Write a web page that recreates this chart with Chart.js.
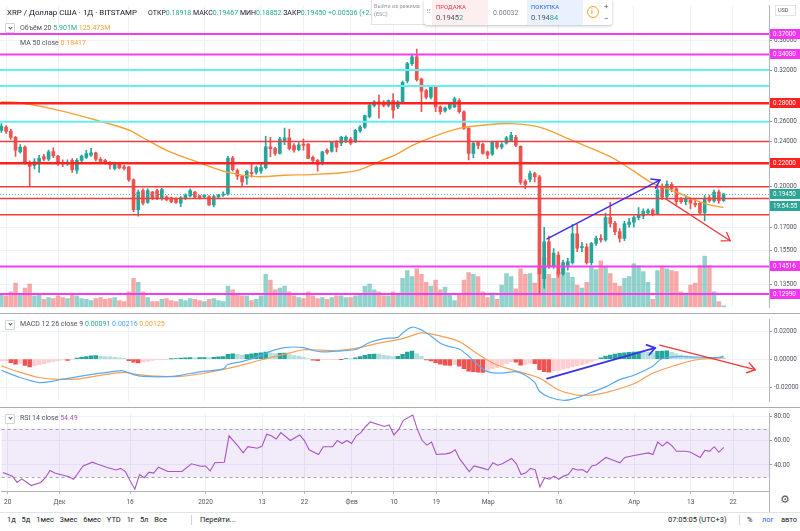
<!DOCTYPE html>
<html><head><meta charset="utf-8">
<script src="https://cdn.jsdelivr.net/npm/chart.js@4.4.1/dist/chart.umd.min.js"></script>
<style>
html,body{margin:0;padding:0;background:#fff;}
#wrap{position:relative;width:800px;height:531px;overflow:hidden;font-family:Roboto,"Liberation Sans",sans-serif;color:#131722;background:#fff;}
canvas{position:absolute;left:0;}
.t{position:absolute;white-space:nowrap;line-height:10px;height:10px;}
.g{color:#26a69a}.o{color:#f7a035}.b{color:#4ea3f1}.p{color:#a855c8}.gr{color:#50535e}
.dd{position:absolute;left:5px;width:8px;height:8px;border:1px solid #d1d4dc;border-radius:1px;background:#fff;}
.dd:after{content:"";position:absolute;left:2.5px;top:1.5px;width:2px;height:2px;border-right:1px solid #555;border-bottom:1px solid #555;transform:rotate(45deg);}
.sep{position:absolute;left:0;width:800px;height:1px;background:#a9acb4;}
</style></head><body><div id="wrap">
<canvas id="cMain" width="800" height="313" style="top:0;width:800px;height:313px"></canvas>
<canvas id="cMacd" width="800" height="93" style="top:314px;width:800px;height:93px"></canvas>
<canvas id="cRsi" width="800" height="104" style="top:408px;width:800px;height:104px"></canvas>
<div class="sep" style="top:313px"></div>
<div class="sep" style="top:407px"></div>
<div style="position:absolute;left:769px;top:491px;width:1px;height:21px;background:#b2b5be"></div>
<div style="position:absolute;left:0;top:512px;width:800px;height:1px;background:#e0e3eb"></div>

<div class="t" style="left:7px;top:7.7px;font-size:7.9px;color:#131722">XRP / Доллар США · 1Д · BITSTAMP</div>
<div class="t" style="left:148px;top:8px;font-size:7px;color:#131722">ОТКР<span class="g">0.18918</span> МАКС<span class="g">0.19467</span> МИН<span class="g">0.18852</span> ЗАКР<span class="g">0.19450</span> <span class="g">+0.00536 (+2.83%)</span></div>
<div class="dd" style="top:23px"></div>
<div class="t" style="left:20px;top:23px;font-size:7px"><span class="gr">Объём 20</span> <span class="g">5.901M</span> <span class="o">125.473M</span></div>
<div class="t" style="left:20px;top:38px;font-size:7px"><span class="gr">MA 50 close</span> <span class="o">0.18417</span></div>

<div style="position:absolute;left:371px;top:0;width:53px;height:24px;background:#fff;border:1px solid #e0e3eb;border-top:none;overflow:hidden">
 <div class="t" style="left:2px;top:1px;font-size:5.5px;color:#9598a1">Выйти из режима</div>
 <div class="t" style="left:2px;top:9px;font-size:5.5px;color:#9598a1">(ESC)</div>
</div>
<div style="position:absolute;left:424px;top:0;width:188px;height:25px;background:#fff;border-radius:0 0 3px 3px;box-shadow:0 1px 3px rgba(0,0,0,0.25)">
 <div class="t" style="left:2px;top:7px;font-size:7px;color:#b2b5be">⠿</div>
 <div style="position:absolute;left:8px;top:0;width:56px;height:25px;background:#fdeef0"></div>
 <div class="t" style="left:12px;top:2px;font-size:6px;color:#f23645">ПРОДАЖА</div>
 <div class="t" style="left:12px;top:12.5px;font-size:7.5px;color:#50535e">0.1945<span class="g">2</span></div>
 <div class="t" style="left:69px;top:8px;font-size:7px;color:#787b86">0.00032</div>
 <div style="position:absolute;left:103px;top:0;width:56px;height:25px;background:#eaf1fe"></div>
 <div class="t" style="left:107px;top:2px;font-size:6px;color:#2962ff">ПОКУПКА</div>
 <div class="t" style="left:107px;top:12.5px;font-size:7.5px;color:#50535e">0.194<span class="g">84</span></div>
 <div style="position:absolute;left:163px;top:6px;width:10px;height:10px;border:1.2px solid #f7a035;border-radius:50%;"></div>
 <div class="t" style="left:167px;top:6.5px;font-size:7px;color:#f7a035;font-weight:bold">i</div>
 <div class="t" style="left:180px;top:1.5px;font-size:8px;color:#50535e">+</div>
 <div class="t" style="left:180px;top:13.5px;font-size:8px;color:#50535e">−</div>
</div>
<div style="position:absolute;left:775px;top:5px;width:19px;height:9px;border:1px solid #e0e3eb;background:#fff"></div>
<div class="t" style="left:778px;top:5px;font-size:5.5px;color:#50535e">USD</div>

<div class="dd" style="top:319.5px"></div>
<div class="t" style="left:20px;top:319px;font-size:7px"><span class="gr">MACD 12 26 close 9</span> <span class="g">0.00091</span> <span class="b">0.00216</span> <span class="o">0.00125</span></div>
<div class="dd" style="top:413.5px"></div>
<div class="t" style="left:20px;top:413px;font-size:7px"><span class="gr">RSI 14 close</span> <span class="p">54.49</span></div>

<div class="t" style="left:780px;top:495px;font-size:11px;color:#50535e;font-family:'DejaVu Sans'">⚙</div>
<div class="t" style="left:7px;top:515px;font-size:7.5px;color:#131722;word-spacing:4px">1д 5д 1мес 3мес 6мес YTD 1г 5л Все</div>
<div style="position:absolute;left:191px;top:515px;width:1px;height:10px;background:#d1d4dc"></div>
<div class="t" style="left:200px;top:515px;font-size:7.5px;color:#131722">Перейти...</div>
<div class="t" style="left:668px;top:515px;font-size:7.5px;color:#131722">07:05:05 (UTC+3)</div>
<div style="position:absolute;left:739px;top:515px;width:1px;height:10px;background:#d1d4dc"></div>
<div class="t" style="left:747px;top:515px;font-size:7.5px;color:#131722">%</div>
<div class="t" style="left:762px;top:515px;font-size:7.5px;color:#2962ff">лог</div>
<div class="t" style="left:781px;top:515px;font-size:7.5px;color:#131722">авто</div>
</div>
<script>
// ---------------- DATA ----------------
const startDate = '2019-11-19';
const opens = [
.2510,.2543,.2504,.2440,.2302,.2347,.2206,.2180,.2206,.2258,.2235,.2305,
.2264,.2201,.2195,.2225,.2138,.2225,.2252,.2273,.2293,.2235,.2225,.2206,.2155,.2201,.2167,.2167,.2057,.1824,.1971,.1879,.1959,.1971,.1909,.1921,.1914,.1909,.1872,.1909,.1929,.1959,.1928,
.1921,.1924,.1860,.1921,.1934,.1941,.2246,.2136,.2087,.2070,.2120,.2120,.2130,.2160,.2350,.2332,.2287,.2400,.2437,.2362,.2323,.2375,.2375,.2252,.2225,.2195,.2317,.2309,.2400,.2385,.2410,
.2425,.2408,.2504,.2543,.2654,.2776,.2817,.2813,.2776,.2829,.2759,.2813,.3063,.3284,.3376,.3087,.2945,.2868,.3004,.2759,.2715,.2745,.2759,.2829,.2706,.2530,.2287,.2390,.2375,
.2302,.2280,.2390,.2347,.2385,.2408,.2440,.2355,.2045,.2060,.2110,.2083,.1382,.1603,.1455,.1519,.1409,.1457,.1474,.1656,.1565,.1570,.1474,.1593,.1625,.1615,.1767,.1726,.1670,.1625,.1720,
.1735,.1767,.1780,.1800,.1822,.1795,.1996,.1925,.2021,.1984,.1905,.1884,.1897,.1872,.1872,.1801,.1915,.1889,.1958,.18918];
const highs = [
.2580,.2560,.2520,.2450,.2370,.2360,.2220,.2240,.2270,.2280,.2320,.2340,
.2270,.2230,.2230,.2240,.2240,.2275,.2320,.2335,.2300,.2250,.2235,.2215,.2210,.2205,.2180,.2170,.2065,.1975,.1985,.1985,.1965,.1980,.1990,.1930,.1920,.1915,.1925,.1945,.1985,.1965,.1935,
.1940,.1930,.1935,.1940,.1960,.2262,.2262,.2150,.2095,.2140,.2190,.2175,.2203,.2450,.2440,.2345,.2440,.2533,.2520,.2380,.2390,.2427,.2380,.2265,.2235,.2310,.2330,.2400,.2410,.2450,.2455,
.2440,.2520,.2560,.2670,.2790,.2830,.2894,.2830,.2840,.2911,.2830,.3060,.3300,.3414,.3481,.3100,.2960,.3010,.3010,.2770,.2760,.2800,.2870,.2850,.2715,.2540,.2400,.2400,.2385,
.2310,.2405,.2400,.2390,.2450,.2490,.2460,.2360,.2060,.2130,.2120,.2095,.1700,.1640,.1560,.1540,.1490,.1500,.1720,.1720,.1600,.1590,.1600,.1640,.1650,.1800,.1880,.1740,.1690,.1740,.1760,
.1780,.1840,.1830,.1830,.1830,.1995,.2025,.2050,.2035,.1995,.1915,.1930,.1910,.1900,.1880,.1930,.1935,.1975,.1975,.19467];
const lows = [
.2490,.2480,.2420,.2260,.2290,.2190,.2010,.2150,.2120,.2220,.2220,.2250,
.2180,.2170,.2180,.2120,.2110,.2200,.2240,.2260,.2220,.2200,.2190,.2150,.2140,.2150,.2140,.2045,.1810,.1778,.1860,.1870,.1900,.1900,.1895,.1890,.1875,.1870,.1846,.1900,.1920,.1910,.1905,
.1910,.1855,.1845,.1912,.1925,.1935,.2130,.2060,.2008,.2020,.2080,.2105,.2110,.2150,.2258,.2270,.2280,.2370,.2320,.2300,.2310,.2317,.2240,.2200,.2130,.2185,.2280,.2300,.2302,.2360,.2390,
.2370,.2390,.2490,.2530,.2640,.2760,.2638,.2760,.2760,.2638,.2740,.2800,.3040,.3260,.3060,.2706,.2850,.2850,.2706,.2680,.2700,.2730,.2750,.2690,.2520,.2229,.2250,.2330,.2280,
.2240,.2270,.2330,.2330,.2375,.2400,.2350,.2020,.1985,.2040,.2040,.1300,.1330,.1440,.1440,.1390,.1400,.1430,.1465,.1540,.1540,.1465,.1460,.1580,.1600,.1605,.1700,.1650,.1600,.1610,.1700,
.1700,.1750,.1760,.1790,.1780,.1790,.1900,.1915,.1960,.1860,.1870,.1860,.1830,.1845,.1790,.1744,.1880,.1880,.1870,.18852];
const closes = [
.2553,.2500,.2440,.2317,.2347,.2206,.2172,.2215,.2244,.2235,.2302,.2264,
.2201,.2195,.2205,.2144,.2225,.2264,.2287,.2293,.2235,.2215,.2206,.2186,.2201,.2158,.2155,.2057,.1824,.1959,.1872,.1971,.1914,.1909,.1979,.1897,.1885,.1879,.1914,.1934,.1971,.1921,.1914,
.1934,.1860,.1924,.1934,.1941,.2246,.2144,.2087,.2039,.2128,.2112,.2161,.2161,.2350,.2332,.2287,.2425,.2437,.2332,.2317,.2368,.2362,.2243,.2225,.2186,.2302,.2297,.2393,.2347,.2440,.2440,
.2385,.2510,.2543,.2664,.2776,.2817,.2793,.2776,.2829,.2724,.2817,.3045,.3284,.3376,.3078,.2940,.2868,.3004,.2759,.2706,.2745,.2793,.2850,.2706,.2530,.2287,.2384,.2362,.2287,
.2273,.2400,.2347,.2370,.2437,.2460,.2362,.2036,.2020,.2110,.2083,.1409,.1603,.1455,.1532,.1409,.1474,.1480,.1656,.1562,.1572,.1474,.1593,.1625,.1615,.1767,.1726,.1670,.1625,.1723,.1735,
.1767,.1790,.1812,.1818,.1795,.1975,.1918,.2021,.1984,.1884,.1884,.1909,.1872,.1860,.1800,.1909,.1889,.1958,.1891,.1945];
const volumes = [ // millions
59,50,67,105,59,84,101,50,55,34,42,38,
50,42,38,59,50,38,34,29,38,42,34,38,42,29,25,67,126,109,67,42,25,25,34,38,29,25,34,29,38,34,29,
25,34,38,29,25,92,76,59,50,50,29,34,50,143,118,76,84,92,67,50,42,38,67,50,38,42,34,42,50,50,42,
42,50,59,92,101,76,67,50,50,67,59,126,160,134,168,143,109,92,118,76,88,55,29,59,118,151,143,134,67,
42,63,34,97,147,134,80,168,143,147,105,176,218,143,126,151,176,151,130,97,84,109,176,164,202,176,147,105,92,126,134,
189,181,155,109,34,160,181,168,160,155,67,55,97,105,181,223,181,67,25,5.9];

const maDates = ['2019-11-19','2019-11-23','2019-12-01','2019-12-10','2019-12-16','2019-12-19','2019-12-24','2019-12-31','2020-01-06','2020-01-12','2020-01-18','2020-01-24','2020-01-30','2020-02-03','2020-02-07','2020-02-11','2020-02-14','2020-02-19','2020-02-24','2020-02-29','2020-03-06','2020-03-12','2020-03-19','2020-03-27','2020-04-01','2020-04-05','2020-04-10','2020-04-14','2020-04-17','2020-04-20'];
const maValues = [0.2818,0.2805,0.2724,0.2603,0.2514,0.2437,0.2317,0.2203,0.2120,0.2084,0.2095,0.2103,0.2117,0.2144,0.2214,0.2287,0.2362,0.2456,0.2530,0.2563,0.2580,0.2543,0.2408,0.2258,0.2130,0.2029,0.1959,0.1896,0.1860,0.18417];

const macdDates = ['2019-11-19','2019-11-23','2019-11-27','2019-11-30','2019-12-02','2019-12-06','2019-12-10','2019-12-14','2019-12-15','2019-12-17','2019-12-19','2019-12-24','2019-12-27','2019-12-31','2020-01-05','2020-01-06','2020-01-09','2020-01-13','2020-01-15','2020-01-18','2020-01-22','2020-01-24','2020-01-26','2020-01-29','2020-02-02','2020-02-05','2020-02-08','2020-02-11','2020-02-12','2020-02-14','2020-02-16','2020-02-18','2020-02-20','2020-02-22','2020-02-24','2020-02-26','2020-02-28','2020-03-01','2020-03-04','2020-03-07','2020-03-09','2020-03-11','2020-03-12','2020-03-14','2020-03-17','2020-03-19','2020-03-22','2020-03-26','2020-03-29','2020-04-01','2020-04-05','2020-04-07','2020-04-11','2020-04-14','2020-04-19','2020-04-20'];
const macdValues = [-0.0079,-0.0131,-0.0167,-0.0156,-0.0142,-0.0121,-0.0100,-0.0083,-0.0085,-0.0110,-0.0123,-0.0125,-0.0115,-0.0090,-0.0069,-0.0038,-0.0017,0.0025,0.0056,0.0083,0.0083,0.0062,0.0052,0.0058,0.0069,0.0119,0.0146,0.0156,0.0187,0.0229,0.0208,0.0166,0.0114,0.0089,0.0073,0.0021,-0.0042,-0.0089,-0.0100,-0.0089,-0.0114,-0.0166,-0.0229,-0.0270,-0.0293,-0.0285,-0.0250,-0.0198,-0.0146,-0.0115,-0.0050,0.0005,0.0019,0.0015,0.0012,0.00216];
const signalDates = ['2019-11-19','2019-11-23','2019-11-27','2019-11-30','2019-12-05','2019-12-10','2019-12-15','2019-12-18','2019-12-23','2019-12-27','2019-12-31','2020-01-07','2020-01-13','2020-01-18','2020-01-22','2020-01-24','2020-01-29','2020-02-02','2020-02-07','2020-02-12','2020-02-16','2020-02-19','2020-02-24','2020-02-28','2020-03-03','2020-03-07','2020-03-12','2020-03-16','2020-03-20','2020-03-23','2020-03-26','2020-04-01','2020-04-05','2020-04-10','2020-04-14','2020-04-18','2020-04-20'];
const signalValues = [-0.0048,-0.0094,-0.0131,-0.0142,-0.0142,-0.0115,-0.0094,-0.0110,-0.0123,-0.0123,-0.0106,-0.0058,-0.0006,0.0035,0.0067,0.0067,0.0062,0.0077,0.0114,0.0146,0.0187,0.0173,0.0125,0.0035,-0.0042,-0.0083,-0.0135,-0.0218,-0.0256,-0.0256,-0.0239,-0.0175,-0.0100,-0.0042,-0.0006,0.0006,0.00125];
const histValues = [
-0.0012,-0.0010,-0.0025,-0.0035,-0.0030,-0.0045,-0.0056,-0.0048,-0.0040,-0.0032,
-0.0024,-0.0016,-0.0010,-0.0006,-0.0009,-0.0004,0.0008,0.0014,0.0019,0.0023,
0.0025,0.0022,0.0019,0.0016,0.0013,0.0010,0.0006,-0.0010,-0.0022,-0.0026,
-0.0020,-0.0014,-0.0009,-0.0004,-0.0002,-0.0001,0.0002,0.0004,0.0007,0.0009,
0.0011,0.0010,0.0011,0.0012,0.0011,0.0013,0.0016,0.0018,0.0035,0.0038,
0.0034,0.0030,0.0033,0.0038,0.0042,0.0046,0.0050,0.0046,0.0040,0.0042,
0.0044,0.0032,0.0026,0.0022,0.0015,0.0005,-0.0008,-0.0010,-0.0006,-0.0004,
-0.0003,-0.0001,-0.0002,0.0003,0.0002,0.0010,0.0018,0.0028,0.0034,0.0037,
0.0036,0.0028,0.0024,0.0018,0.0020,0.0035,0.0050,0.0058,0.0040,0.0020,
-0.0005,-0.0012,-0.0025,-0.0035,-0.0042,-0.0045,-0.0038,-0.0050,-0.0068,-0.0085,
-0.0090,-0.0092,-0.0094,-0.0085,-0.0070,-0.0060,-0.0045,-0.0030,-0.0018,-0.0022,
-0.0042,-0.0038,-0.0030,-0.0032,-0.0075,-0.0090,-0.0092,-0.0082,-0.0080,-0.0072,
-0.0065,-0.0055,-0.0048,-0.0040,-0.0030,-0.0018,-0.0008,0.0010,0.0022,0.0030,
0.0036,0.0042,0.0046,0.0049,0.0050,0.0052,0.0051,0.0049,0.0046,0.0056,
0.0058,0.0060,0.0048,0.0038,0.0030,0.0024,0.0018,0.0014,0.0010,0.0009,
0.0011,0.0012,0.0010,0.00091];

const rsiDates = ['2019-11-19','2019-11-21','2019-11-22','2019-11-23','2019-11-25','2019-11-27','2019-11-28','2019-11-29','2019-11-30','2019-12-01','2019-12-03','2019-12-04','2019-12-06','2019-12-08','2019-12-09','2019-12-11','2019-12-13','2019-12-14','2019-12-15','2019-12-16','2019-12-17','2019-12-18','2019-12-19','2019-12-20','2019-12-21','2019-12-22','2019-12-24','2019-12-27','2019-12-29','2019-12-31',
'2020-01-01','2020-01-02','2020-01-03','2020-01-05','2020-01-06','2020-01-08','2020-01-09','2020-01-10','2020-01-12','2020-01-13','2020-01-14','2020-01-15','2020-01-16','2020-01-17','2020-01-19','2020-01-21','2020-01-22','2020-01-23','2020-01-25','2020-01-26','2020-01-28','2020-01-29','2020-01-30','2020-01-31',
'2020-02-01','2020-02-02','2020-02-03','2020-02-04','2020-02-05','2020-02-07','2020-02-08','2020-02-09','2020-02-10','2020-02-11','2020-02-12','2020-02-14','2020-02-15','2020-02-16','2020-02-17','2020-02-18','2020-02-19','2020-02-21','2020-02-22','2020-02-23','2020-02-24','2020-02-26','2020-02-27','2020-02-29',
'2020-03-01','2020-03-02','2020-03-03','2020-03-04','2020-03-06','2020-03-07','2020-03-08','2020-03-09','2020-03-10','2020-03-11','2020-03-12','2020-03-13','2020-03-14','2020-03-15','2020-03-16','2020-03-17','2020-03-18','2020-03-19','2020-03-20','2020-03-21','2020-03-22','2020-03-23','2020-03-24','2020-03-26','2020-03-27','2020-03-29','2020-03-30',
'2020-04-01','2020-04-04','2020-04-05','2020-04-06','2020-04-07','2020-04-08','2020-04-09','2020-04-10','2020-04-12','2020-04-13','2020-04-15','2020-04-16','2020-04-17','2020-04-18','2020-04-19','2020-04-20'];
const rsiValues = [33.8,30.8,25.6,28.5,23.0,25.6,29.5,35.4,33.3,32.3,30.2,28.2,39.2,42.3,40.8,38.2,35.9,37.2,34.6,26.9,20.0,32.1,29.5,34.1,33.3,38.2,34.6,34.6,41.0,39.0,
39.2,35.1,41.8,42.3,64.1,55.1,50.0,55.1,53.8,55.6,65.4,64.1,61.5,66.7,60.2,64.8,60.2,52.5,48.7,55.1,55.1,60.2,57.7,60.2,
57.7,64.1,66.7,71.8,75.6,73.1,71.8,73.1,64.8,69.2,76.9,81.3,69.2,60.2,56.4,59.0,48.7,49.2,50.0,52.5,44.8,34.6,39.2,37.2,
35.9,41.8,39.8,41.0,45.4,41.0,32.1,33.5,37.2,36.0,21.8,29.5,28.2,30.8,28.2,30.8,32.1,37.2,35.9,36.2,33.8,39.2,40.2,46.2,44.8,41.8,46.2,
47.9,50.0,48.7,59.0,55.6,59.0,56.0,51.3,51.3,50.5,46.2,52.1,51.3,55.1,50.5,54.49];

const xTickDates = ['2019-11-20','2019-12-01','2019-12-16','2020-01-01','2020-01-13','2020-01-22','2020-02-01','2020-02-10','2020-02-19','2020-03-01','2020-03-16','2020-04-01','2020-04-13','2020-04-22'];
const xTickLabels = ['20','Дек','16','2020','13','22','Фев','10','19','Мар','16','Апр','13','22'];
const priceTicks = [0.36,0.32,0.26,0.24,0.20,0.17,0.155,0.135];
const macdTicks = [0.02,0,-0.02];
const rsiTicks = [80,60,40];

const levelPrices = [0.37,0.3408,0.32,0.30,0.28,0.26,0.24,0.22,0.20,0.1909,0.1787,0.14516,0.1299];
const levelKinds  = ['m','m','c','c','R','c','r','R','r','r','r','m','m'];
const levelLabels = ['0.37000','0.34080',null,null,'0.28000',null,null,'0.22000',null,null,null,'0.14516','0.12990'];
const countdown = '19:54:55';

// drawings (data coordinates: day offset from start, value)
const mainArrows = [
  {x1:115.6,y1:0.1622,x2:139.5,y2:0.2055,color:'#3d30f2',w:1.6},
  {x1:140.6,y1:0.1909,x2:154.4,y2:0.1610,color:'#f03a3a',w:1.3}];
const macdArrows = [
  {x1:115.6,y1:-0.0138,x2:138.5,y2:0.0081,color:'#3d30f2',w:1.8},
  {x1:139.5,y1:0.0100,x2:159.7,y2:-0.0075,color:'#f03a3a',w:1.4}];

// ---------------- STYLE / HELPERS ----------------
const X_MIN = -0.29, X_MAX = 162.63, AXIS_W = 31;
const levelStyle = {m:{color:'#f53cf2',w:2}, c:{color:'#62eff5',w:2}, R:{color:'#ff2222',w:2.5}, r:{color:'#f23d3d',w:1.5}};
const dayIdx = s => Math.round((Date.parse(s) - Date.parse(startDate)) / 86400000);
const idx = closes.map((_, i) => i);
const up = closes.map((c, i) => c >= opens[i]);
const candleCol = up.map(u => u ? '#26a69a' : '#ef5350');
const volCol = up.map(u => u ? 'rgba(38,166,154,0.5)' : 'rgba(239,83,80,0.5)');
const histCol = histValues.map((h, i) => { const p = i ? histValues[i-1] : h; return h >= 0 ? (h >= p ? '#26a69a' : '#b2dfdb') : (h < p ? '#ef5350' : '#ffcdd2'); });
const tickLbl = {}; xTickDates.forEach((d, k) => tickLbl[dayIdx(d)] = xTickLabels[k]);

Chart.defaults.font.family = 'Roboto';
Chart.defaults.color = '#4c525e';
Chart.defaults.animation = false;

function xScale(showLabels) {
  return {type:'linear', min:X_MIN, max:X_MAX, offset:false,
    afterBuildTicks: s => { s.ticks = xTickDates.map(d => ({value: dayIdx(d)})); },
    afterFit: s => { s.height = showLabels ? 21 : 0; },
    grid:{color:'#eef1f6', offset:false, drawTicks:showLabels, tickLength:3, tickColor:'#b2b5be'},
    border:{display:showLabels, color:'#b2b5be'},
    ticks:{display:showLabels, autoSkip:false, maxRotation:0, padding:4, font:{size:6.5}, color:'#4c525e', callback: v => tickLbl[v] ?? ''}};
}
function yRight(extra, ticks, fmt) {
  return Object.assign({position:'right', beginAtZero:false,
    afterBuildTicks: s => { s.ticks = ticks.map(v => ({value:v})); },
    afterFit: s => { s.width = AXIS_W; },
    ticks:{autoSkip:false, padding:2, font:{size:6.3}, color:'#4c525e', callback: v => fmt(Number(v))},
    grid:{color:'#eef1f6', drawTicks:true, tickLength:3, tickColor:'#9598a1'},
    border:{color:'#b2b5be'}}, extra);
}
function drawArrow(ctx, x1, y1, x2, y2, color, w) {
  ctx.strokeStyle = color; ctx.lineWidth = w; ctx.lineCap = 'round';
  ctx.beginPath(); ctx.moveTo(x1, y1); ctx.lineTo(x2, y2); ctx.stroke();
  const a = Math.atan2(y2 - y1, x2 - x1), h = 9, s = 0.6;
  ctx.beginPath();
  ctx.moveTo(x2 - h * Math.cos(a - s), y2 - h * Math.sin(a - s));
  ctx.lineTo(x2, y2);
  ctx.lineTo(x2 - h * Math.cos(a + s), y2 - h * Math.sin(a + s));
  ctx.stroke();
}
function axisBox(ctx, x, yc, bg, text) {
  ctx.fillStyle = bg; ctx.fillRect(x, Math.round(yc) - 5, 800 - x, 10);
  ctx.fillStyle = '#fff'; ctx.font = '6.3px Roboto'; ctx.textBaseline = 'middle'; ctx.textAlign = 'left';
  ctx.fillText(text, x + 3, Math.round(yc) + 0.5);
}
const common = {responsive:false, maintainAspectRatio:false, events:[], layout:{padding:0, autoPadding:false},
  plugins:{legend:{display:false}, tooltip:{enabled:false}}};

// ---------------- MAIN ----------------
const lastClose = closes[closes.length - 1];
const mainOverlay = {id:'mainOverlay',
  afterDatasetsDraw(chart) {
    const {ctx, chartArea:a, scales:{x, y}} = chart;
    ctx.save();
    ctx.beginPath(); ctx.rect(a.left, a.top, a.right - a.left, a.bottom - a.top); ctx.clip();
    levelPrices.forEach((p, k) => {
      const st = levelStyle[levelKinds[k]]; const py = y.getPixelForValue(p);
      ctx.strokeStyle = st.color; ctx.lineWidth = st.w;
      ctx.beginPath(); ctx.moveTo(a.left, py); ctx.lineTo(a.right, py); ctx.stroke();
    });
    const cy = Math.round(y.getPixelForValue(lastClose)) + 0.5;
    ctx.setLineDash([1, 2]); ctx.strokeStyle = '#5fb5ad'; ctx.lineWidth = 1;
    ctx.beginPath(); ctx.moveTo(a.left, cy); ctx.lineTo(a.right, cy); ctx.stroke(); ctx.setLineDash([]);
    mainArrows.forEach(r => drawArrow(ctx, x.getPixelForValue(r.x1), y.getPixelForValue(r.y1), x.getPixelForValue(r.x2), y.getPixelForValue(r.y2), r.color, r.w));
    ctx.restore();
  },
  afterDraw(chart) {
    const {ctx, chartArea:a, scales:{y}} = chart;
    ctx.save();
    levelPrices.forEach((p, k) => { if (levelLabels[k]) axisBox(ctx, a.right + 1, y.getPixelForValue(p), levelKinds[k] === 'm' ? '#f533f2' : '#ff2020', levelLabels[k]); });
    const cy = y.getPixelForValue(lastClose);
    axisBox(ctx, a.right + 1, cy, '#2aa596', lastClose.toFixed(5));
    axisBox(ctx, a.right + 1, cy + 12, '#2aa596', countdown);
    ctx.restore();
  }};

new Chart(document.getElementById('cMain'), {
  type:'bar',
  data:{datasets:[
    {type:'line', data: maDates.map((d, k) => ({x: dayIdx(d), y: maValues[k]})), borderColor:'#f7a035', borderWidth:1.4, pointRadius:0, tension:0.35, order:0},
    {type:'bar', data: idx.map(i => ({x:i, y:[opens[i], closes[i]]})), backgroundColor:candleCol, barThickness:3, minBarLength:1, grouped:false, order:1},
    {type:'bar', data: idx.map(i => ({x:i, y:[lows[i], highs[i]]})), backgroundColor:candleCol, barThickness:1, grouped:false, order:2},
    {type:'bar', yAxisID:'yv', data: idx.map(i => ({x:i, y:volumes[i]})), backgroundColor:volCol, barThickness:3.8, grouped:false, order:3}
  ]},
  options: Object.assign({}, common, {
    scales:{
      x: xScale(false),
      y: yRight({type:'logarithmic', min:0.1232, max:0.4145}, priceTicks, v => v.toFixed(5)),
      yv:{type:'linear', display:false, min:0, max:1315}
    }}),
  plugins:[mainOverlay]
});

// ---------------- MACD ----------------
const macdOverlay = {id:'macdOverlay',
  afterDatasetsDraw(chart) {
    const {ctx, chartArea:a, scales:{x, y}} = chart;
    ctx.save(); ctx.beginPath(); ctx.rect(a.left, a.top, a.right - a.left, a.bottom - a.top); ctx.clip();
    macdArrows.forEach(r => drawArrow(ctx, x.getPixelForValue(r.x1), y.getPixelForValue(r.y1), x.getPixelForValue(r.x2), y.getPixelForValue(r.y2), r.color, r.w));
    ctx.restore();
  }};
new Chart(document.getElementById('cMacd'), {
  type:'bar',
  data:{datasets:[
    {type:'line', data: macdDates.map((d, k) => ({x: dayIdx(d), y: macdValues[k]})), borderColor:'#5aaaf3', borderWidth:1.2, pointRadius:0, tension:0.3, order:0},
    {type:'line', data: signalDates.map((d, k) => ({x: dayIdx(d), y: signalValues[k]})), borderColor:'#f7a055', borderWidth:1.2, pointRadius:0, tension:0.3, order:1},
    {type:'bar', data: idx.map(i => ({x:i, y:histValues[i]})), backgroundColor:histCol, barThickness:3.8, grouped:false, order:2}
  ]},
  options: Object.assign({}, common, {
    scales:{x: xScale(false), y: yRight({type:'linear', min:-0.0300, max:0.0281}, macdTicks, v => (v < 0 ? '-' : '') + Math.abs(v).toFixed(5))}}),
  plugins:[macdOverlay]
});

// ---------------- RSI ----------------
const rsiBand = {id:'rsiBand',
  beforeDatasetsDraw(chart) {
    const {ctx, chartArea:a, scales:{y}} = chart;
    const y70 = y.getPixelForValue(70), y30 = y.getPixelForValue(30);
    ctx.save();
    ctx.fillStyle = 'rgba(150,90,210,0.12)';
    ctx.fillRect(a.left, y70, a.right - a.left, y30 - y70);
    ctx.setLineDash([3, 3]); ctx.strokeStyle = '#a7a0b5'; ctx.lineWidth = 1;
    [y70, y30].forEach(v => { ctx.beginPath(); ctx.moveTo(a.left, Math.round(v) + 0.5); ctx.lineTo(a.right, Math.round(v) + 0.5); ctx.stroke(); });
    ctx.restore();
  }};
new Chart(document.getElementById('cRsi'), {
  type:'line',
  data:{datasets:[
    {data: rsiDates.map((d, k) => ({x: dayIdx(d), y: rsiValues[k]})), borderColor:'#a855c8', borderWidth:1.1, pointRadius:0, tension:0}
  ]},
  options: Object.assign({}, common, {
    scales:{x: xScale(true), y: yRight({type:'linear', min:18.5, max:82.3}, rsiTicks, v => v.toFixed(2))}}),
  plugins:[rsiBand]
});
</script>
</body></html>
